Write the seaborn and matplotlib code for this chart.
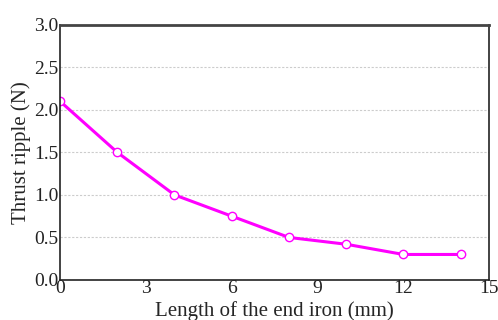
import matplotlib
matplotlib.use("Agg")
import matplotlib.pyplot as plt
import seaborn as sns
import pandas as pd

lengths = [0, 2, 4, 6, 8, 10, 12, 14]
ripple = [2.1, 1.5, 1.0, 0.75, 0.5, 0.42, 0.3, 0.3]
xticks = [0, 3, 6, 9, 12, 15]
yticks = [0.0, 0.5, 1.0, 1.5, 2.0, 2.5, 3.0]

sns.set_style("white")
plt.rcParams['font.family'] = ['Liberation Serif', 'DejaVu Serif']

df = pd.DataFrame({"x": lengths, "y": ripple})
fig = plt.figure(figsize=(4.98, 3.2), dpi=100)
ax = fig.add_axes([0.1205, 0.125, 0.862, 0.798])
sns.lineplot(data=df, x="x", y="y", ax=ax, color="#ff00ff", linewidth=2.2,
             marker="o", markersize=6, markerfacecolor="white",
             markeredgecolor="#ff00ff", markeredgewidth=1.0)
ax.set_xlim(0, 15)
ax.set_ylim(0, 3.0)
ax.set_xticks(xticks)
ax.set_xticklabels([str(t) for t in xticks])
ax.set_yticks(yticks)
ax.set_yticklabels([f"{t:.1f}" for t in yticks])
ax.yaxis.grid(True, linestyle=(0, (2, 1.5)), color="#cccccc", linewidth=0.8)
ax.xaxis.grid(False)
ax.tick_params(axis="both", direction="in", length=4, width=1, labelsize=14,
               colors="#222222", pad=1)
ax.tick_params(axis="x", pad=0)
for s in ax.spines.values():
    s.set_color("#222222")
    s.set_linewidth(1.2)
ax.spines["top"].set_color("#444444")
ax.spines["top"].set_linewidth(2)
ax.set_xlabel("Length of the end iron (mm)", fontsize=15, labelpad=3)
ax.set_ylabel("Thrust ripple (N)", fontsize=15, labelpad=2)
fig.savefig("out.png", dpi=100)
